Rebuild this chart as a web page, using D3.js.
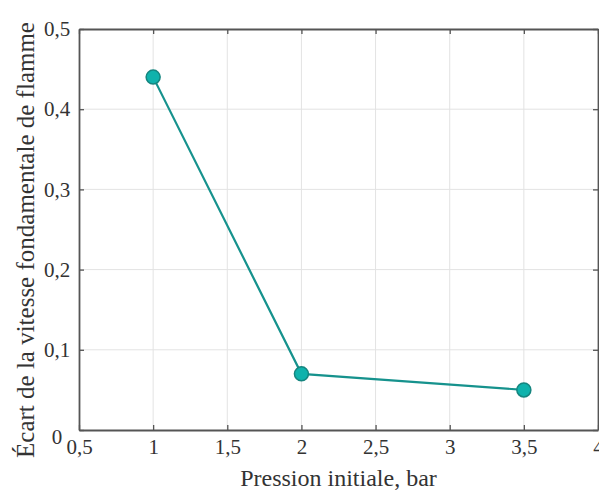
<!DOCTYPE html>
<html><head><meta charset="utf-8">
<script src="https://cdn.jsdelivr.net/npm/d3@7"></script>
<style>body{margin:0;background:#fff}svg{display:block}</style>
</head><body>
<svg id="c" width="599" height="491"></svg>
<script>
const pressure = [1, 2, 3.5];
const deviation = [0.44, 0.07, 0.05];
const xTicks = [0.5, 1, 1.5, 2, 2.5, 3, 3.5, 4];
const yTicks = [0, 0.1, 0.2, 0.3, 0.4, 0.5];
const xTitle = "Pression initiale, bar";
const yTitle = "Écart de la vitesse fondamentale de flamme";

const svg = d3.select("#c");
const m = {l:79, r:598, t:29, b:430};
const x = d3.scaleLinear().domain([0.5, 4]).range([m.l, m.r]);
const y = d3.scaleLinear().domain([0, 0.5]).range([m.b, m.t]);
const fmt = d => String(d).replace(".", ",");
const font = "'Liberation Serif', 'Times New Roman', serif";

// grid
svg.append("g").selectAll("line").data(xTicks.slice(1,-1)).join("line")
  .attr("x1", d=>x(d)).attr("x2", d=>x(d)).attr("y1", m.t).attr("y2", m.b)
  .attr("stroke", "#e3e3e3").attr("stroke-width", 1);
svg.append("g").selectAll("line").data(yTicks.slice(1,-1)).join("line")
  .attr("y1", d=>y(d)).attr("y2", d=>y(d)).attr("x1", m.l).attr("x2", m.r)
  .attr("stroke", "#e3e3e3").attr("stroke-width", 1);

// axes
const tickLen = 5;
const xAxisB = svg.append("g").attr("transform", `translate(0,${m.b})`)
  .call(d3.axisBottom(x).tickValues(xTicks).tickFormat(fmt).tickSizeInner(-tickLen).tickSizeOuter(0).tickPadding(9));
const xAxisT = svg.append("g").attr("transform", `translate(0,${m.t})`)
  .call(d3.axisTop(x).tickValues(xTicks).tickFormat("").tickSizeInner(-tickLen).tickSizeOuter(0));
const yAxisL = svg.append("g").attr("transform", `translate(${m.l},0)`)
  .call(d3.axisLeft(y).tickValues(yTicks).tickFormat(d => d === 0 ? "0" : fmt(d)).tickSizeInner(-tickLen).tickSizeOuter(0).tickPadding(22));
const yAxisR = svg.append("g").attr("transform", `translate(${m.r},0)`)
  .call(d3.axisRight(y).tickValues(yTicks).tickFormat("").tickSizeInner(-tickLen).tickSizeOuter(0));
[xAxisB, xAxisT, yAxisL, yAxisR].forEach(g => {
  g.select(".domain").attr("stroke", "#555").attr("stroke-width", 1.8);
  g.selectAll(".tick line").attr("stroke", "#555").attr("stroke-width", 1.3);
  g.selectAll("text").attr("font-family", font).attr("font-size", 21).attr("fill", "#333");
});
// y labels centred like the reference; the zero label sits a little lower
yAxisL.selectAll(".tick text").attr("text-anchor", "middle")
  .attr("dy", d => d === 0 ? "0.62em" : "0.32em");

// line + markers
const line = d3.line().x((d,i)=>x(pressure[i])).y(d=>y(d));
svg.append("path").datum(deviation).attr("d", line)
  .attr("fill", "none").attr("stroke", "#16928d").attr("stroke-width", 2.2);
svg.append("g").selectAll("circle").data(deviation).join("circle")
  .attr("cx", (d,i)=>x(pressure[i])).attr("cy", d=>y(d)).attr("r", 7)
  .attr("fill", "#0fb2ac").attr("stroke", "#15857f").attr("stroke-width", 1.5);

// titles
svg.append("text").attr("x", (m.l+m.r)/2).attr("y", 486).attr("text-anchor", "middle")
  .attr("font-family", font).attr("font-size", 24).attr("fill", "#333").text(xTitle);
svg.append("text").attr("transform", `translate(34,240) rotate(-90)`).attr("text-anchor", "middle")
  .attr("font-family", font).attr("font-size", 25).attr("fill", "#333").text(yTitle);
</script>
</body></html>
